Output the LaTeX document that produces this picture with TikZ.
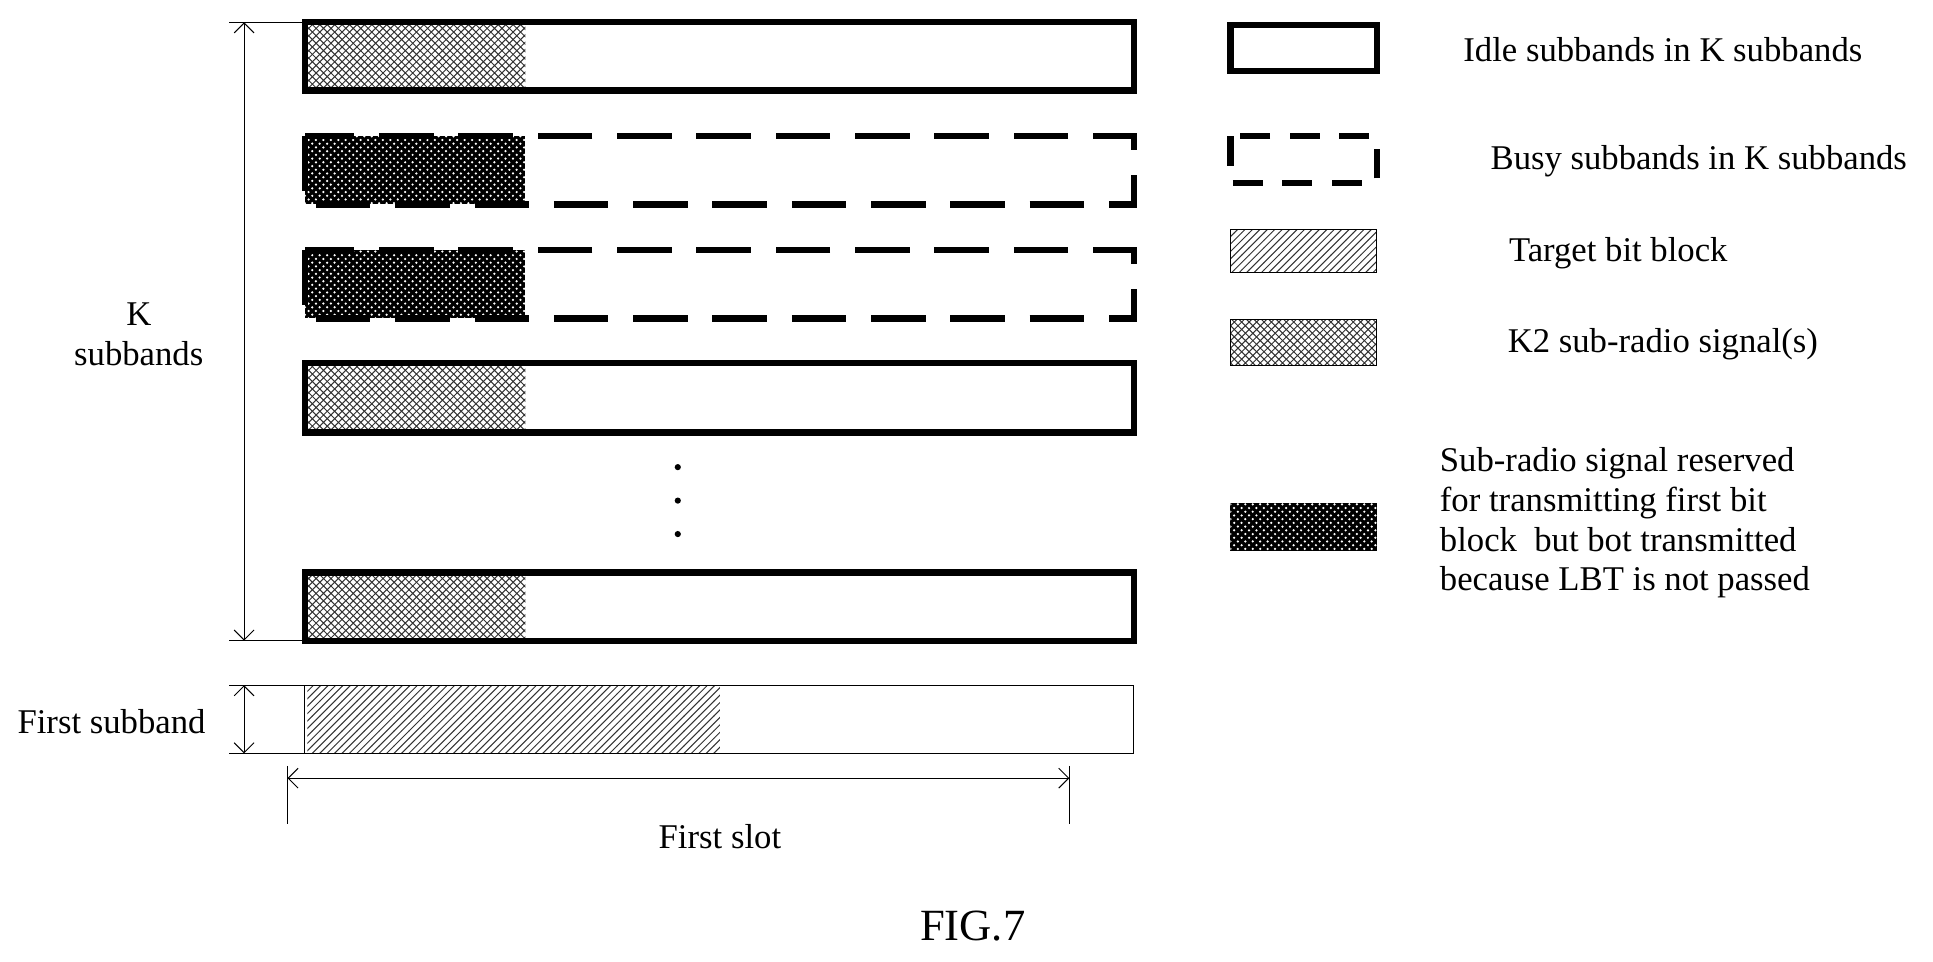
\documentclass[tikz,border=0pt]{standalone}
\usepackage{fontspec}
\setmainfont{Liberation Serif}
\usetikzlibrary{arrows.meta,patterns,positioning}
\tikzset{
    idle/.style={draw, line width=2.5pt},
    busy/.style={draw, line width=2.5pt, dash pattern=on 22pt off 10pt},
    kcross/.style={pattern=crosshatch, pattern color=black!80},
    target/.style={pattern=north east lines, pattern color=black!80},
    reserved/.style={fill=black, postaction={pattern=crosshatch dots, pattern color=white}},
    dim/.style={thin, {Straight Barb[length=4pt]}-{Straight Barb[length=4pt]}},
    txt/.style={font=\fontsize{14}{16}\selectfont}
}
\begin{document}
\begin{tikzpicture}[x=0.5pt, y=-0.5pt]
    \useasboundingbox (0,0) rectangle (1560,776);
    % K subbands
    \foreach \t/\b in {18/73, 293/349, 462/517}{
        \fill[kcross] (248,\t) rectangle (424,\b);
        \draw[idle] (246,\t) rectangle (915,\b);
    }
    \foreach \t/\b in {110/165, 202/257}{
        \fill[reserved] (246,\t) rectangle (424,\b);
        \draw[busy] (246,\t) rectangle (915,\b);
    }
    \foreach \y in {377, 404, 431}
        \fill (547,\y) circle (2.5);
    % first subband
    \fill[target] (248,553) rectangle (581,608);
    \draw[thin] (246,553) rectangle (915,608);
    % dimensions
    \coordinate (kt) at (197,18);
    \coordinate (kb) at (197,517);
    \coordinate (ft) at (197,553);
    \coordinate (fb) at (197,608);
    \coordinate (sl) at (232,628);
    \coordinate (sr) at (863,628);
    \draw[thin] (185,18) -- (246,18) (185,517) -- (246,517);
    \draw[thin] (185,553) -- (246,553) (185,608) -- (246,608);
    \draw[thin] (232,618) -- (232,665) (863,618) -- (863,665);
    \draw[dim] (kt) -- (kb);
    \draw[dim] (ft) -- (fb);
    \draw[dim] (sl) -- (sr);
    \node[txt, align=center] (klab) at (112,270) {K\\subbands};
    \node[txt] (flab) at (90,582) {First subband};
    \node[txt] (slab) at (581,675) {First slot};
    \node[font=\fontsize{18}{20}\selectfont] (fig) at (785,747) {FIG.7};
    % legend
    \draw[idle] (993,20) rectangle (1111,57);
    \draw[busy, dash pattern=on 12pt off 8pt] (993,110) rectangle (1111,148);
    \fill[target] (993,185) rectangle (1111,220);
    \draw[thin] (993,185) rectangle (1111,220);
    \fill[kcross] (993,258) rectangle (1111,295);
    \draw[thin] (993,258) rectangle (1111,295);
    \fill[reserved] (993,406) rectangle (1111,445);
    \node[txt] (lidle) at (1342,40) {Idle subbands in K subbands};
    \node[txt] (lbusy) at (1371,130) {Busy subbands in K subbands};
    \node[txt] (ltarget) at (1306,204) {Target bit block};
    \node[txt] (lk2) at (1342,278) {K2 sub-radio signal(s)};
    \node[txt, align=left, anchor=west] (lres) at (1155,422)
        {Sub-radio signal reserved\\for transmitting first bit\\block\ \ but bot transmitted\\because LBT is not passed};
\end{tikzpicture}
\end{document}
